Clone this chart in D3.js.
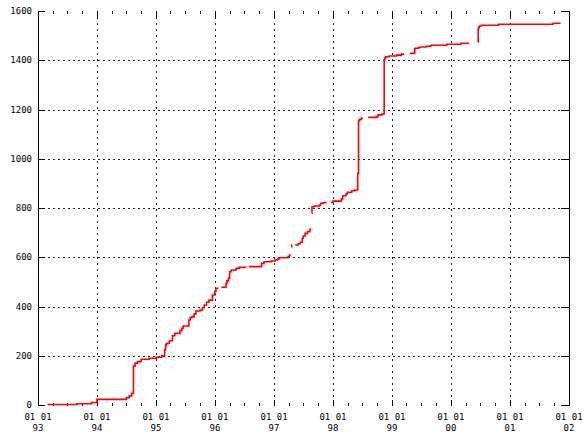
<!DOCTYPE html>
<html>
<head>
<meta charset="utf-8">
<script src="https://cdn.jsdelivr.net/npm/d3@7"></script>
<style>
  body { margin: 0; background: #fff; }
  svg { display: block; }
  text { font-family: "DejaVu Sans Mono", "Liberation Mono", monospace; font-size: 9px; fill: #000; }
</style>
</head>
<body>
<div id="chart"></div>
<script>
// cumulative count, a null entry breaks the line
const dates = [
  "1993-03-01","1993-08-29","1993-11-28","1994-01-01","1994-07-02","1994-07-20","1994-08-04","1994-08-15",
  "1994-08-25","1994-09-09","1994-10-01","1994-11-20","1995-01-04","1995-02-06","1995-02-24","1995-03-02",
  "1995-03-07","1995-03-25","1995-04-13","1995-04-28","1995-05-30","1995-06-10","1995-06-18","1995-07-24",
  "1995-08-01","1995-08-12","1995-08-26","1995-09-06","1995-10-01","1995-10-16","1995-10-27","1995-11-10",
  "1995-11-25","1995-12-17","1996-01-01","1996-01-08","1996-01-22", null,
  "1996-02-10","1996-03-10","1996-03-15","1996-03-25","1996-04-01","1996-04-10","1996-05-12","1996-05-31",
  "1996-07-13", null,
  "1996-07-31","1996-10-16","1996-10-31","1996-12-15","1997-01-08","1997-01-22","1997-02-03","1997-03-29",
  "1997-04-07","1997-04-15", null,
  "1997-04-16","1997-04-20","1997-04-23", null,
  "1997-05-12","1997-05-31","1997-06-14","1997-06-25","1997-07-01","1997-07-12","1997-07-27","1997-08-12",
  "1997-08-20", null,
  "1997-08-23","1997-08-24","1997-09-06","1997-10-09","1997-10-17","1997-11-03","1997-11-22", null,
  "1997-12-20","1998-01-01","1998-02-22","1998-03-02","1998-03-22","1998-03-31","1998-04-27","1998-05-15",
  "1998-06-03","1998-06-08","1998-06-14","1998-06-25","1998-07-05", null,
  "1998-08-07","1998-09-27","1998-10-07","1998-10-31","1998-11-14","1998-11-17","1998-11-24","1998-12-14",
  "1999-01-30","1999-02-28","1999-03-18", null,
  "1999-04-23","1999-05-22","1999-05-24","1999-06-13","1999-06-21","1999-07-31","1999-08-29","1999-12-06",
  "2000-03-03","2000-04-23", null,
  "2000-06-17","2000-06-18","2000-06-20","2000-06-25","2000-07-08","2000-10-23","2001-09-24","2001-11-10"
];
const counts = [
  2, 5, 10, 23, 30, 37, 48, 158,
  170, 176, 186, 190, 194, 200, 225, 244,
  251, 261, 281, 291, 302, 311, 321, 345,
  355, 359, 370, 382, 386, 395, 406, 417,
  426, 447, 463, 474, 474, null,
  478, 495, 504, 515, 541, 548, 555, 559,
  559, null,
  562, 575, 582, 585, 589, 593, 598, 603,
  609, 609, null,
  643, 650, 650, null,
  650, 655, 661, 677, 686, 697, 704, 714,
  714, null,
  778, 805, 808, 812, 819, 822, 822, null,
  823, 828, 837, 850, 857, 864, 870, 873,
  941, 1153, 1160, 1164, 1164, null,
  1168, 1171, 1178, 1182, 1401, 1409, 1414, 1417,
  1421, 1425, 1425, null,
  1428, 1446, 1449, 1451, 1454, 1457, 1461, 1465,
  1469, 1469, null,
  1473, 1527, 1533, 1539, 1542, 1546, 1550, 1550
];

const yTicks = [0, 200, 400, 600, 800, 1000, 1200, 1400, 1600];
const dayLabel = "01 01";
const yearLabels = ["93", "94", "95", "96", "97", "98", "99", "00", "01", "02"];

const width = 585, height = 438;
const plotLeft = 38, plotRight = 569, plotTop = 11, plotBottom = 405;

const parse = d3.utcParse("%Y-%m-%d");
const data = dates.map((d, i) => ({ date: d ? parse(d) : null, count: counts[i] }));

const x = d3.scaleUtc()
    .domain([new Date(Date.UTC(1993, 0, 1)), new Date(Date.UTC(2002, 0, 1))])
    .range([plotLeft, plotRight]);
const y = d3.scaleLinear()
    .domain([0, 1600])
    .range([plotBottom, plotTop]);

const svg = d3.select("#chart").append("svg")
    .attr("width", width)
    .attr("height", height);

const years = x.ticks(d3.utcYear.every(1));
const quarters = x.ticks(d3.utcMonth.every(3)).filter(d => d.getUTCMonth() !== 0);

const px = v => Math.round(v) + 0.5;

// grid
const grid = svg.append("g").attr("stroke", "#222").attr("stroke-width", 1);
grid.selectAll(".vgrid")
    .data(years.slice(1, -1))
    .enter().append("line")
    .attr("x1", d => px(x(d))).attr("x2", d => px(x(d)))
    .attr("y1", plotTop).attr("y2", plotBottom)
    .attr("stroke-dasharray", "2,4");
grid.selectAll(".hgrid")
    .data(yTicks.slice(1, -1))
    .enter().append("line")
    .attr("x1", plotLeft).attr("x2", plotRight)
    .attr("y1", d => px(y(d))).attr("y2", d => px(y(d)))
    .attr("stroke-dasharray", "2,3");

// border lines left and right
const frame = svg.append("g").attr("stroke", "#000").attr("stroke-width", 1);
[plotLeft, plotRight].forEach(v => {
    frame.append("line")
        .attr("x1", px(v)).attr("x2", px(v))
        .attr("y1", plotTop).attr("y2", plotBottom + 1);
});

// y ticks both sides
frame.selectAll(".yl").data(yTicks).enter().append("line")
    .attr("x1", plotLeft).attr("x2", plotLeft + 7)
    .attr("y1", d => px(y(d))).attr("y2", d => px(y(d)));
frame.selectAll(".yr").data(yTicks).enter().append("line")
    .attr("x1", plotRight - 8).attr("x2", plotRight)
    .attr("y1", d => px(y(d))).attr("y2", d => px(y(d)));

// x ticks, bottom and top, pointing inward
const xTick = (list, len) => {
    frame.selectAll(null).data(list).enter().append("line")
        .attr("x1", d => px(x(d))).attr("x2", d => px(x(d)))
        .attr("y1", plotBottom + 1).attr("y2", plotBottom + 1 - len);
    frame.selectAll(null).data(list).enter().append("line")
        .attr("x1", d => px(x(d))).attr("x2", d => px(x(d)))
        .attr("y1", plotTop).attr("y2", plotTop + len);
};
xTick(years, 6);
xTick(quarters, 3);

// labels
svg.append("g").selectAll("text")
    .data(yTicks)
    .enter().append("text")
    .attr("x", 32)
    .attr("y", d => y(d))
    .attr("dy", "0.35em")
    .attr("text-anchor", "end")
    .text(d => d);

const xl = svg.append("g").selectAll("g")
    .data(years)
    .enter().append("g")
    .attr("transform", d => `translate(${x(d)},0)`);
xl.append("text")
    .attr("y", 417).attr("dy", "0.35em")
    .attr("text-anchor", "middle")
    .text(dayLabel);
xl.append("text")
    .attr("y", 428).attr("dy", "0.35em")
    .attr("text-anchor", "middle")
    .text((d, i) => yearLabels[i]);

// the series
const line = d3.line()
    .defined(d => d.count != null)
    .x(d => x(d.date))
    .y(d => y(d.count))
    .curve(d3.curveStepAfter);

svg.append("path")
    .datum(data)
    .attr("fill", "none")
    .attr("stroke", "#ff0000")
    .attr("stroke-width", 1.6)
    .attr("d", line);
</script>
</body>
</html>
